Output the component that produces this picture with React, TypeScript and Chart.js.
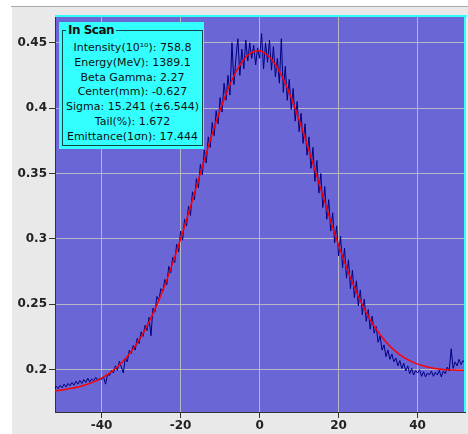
import React, { useEffect, useRef } from "react";
import { Chart, registerables } from "chart.js";

Chart.register(...registerables);

// Measured beam profile, sampled every 0.5 mm from -52 mm
const MEASURED_START = -52;
const MEASURED_STEP = 0.5;
const MEASURED = [
  0.1845, 0.1875, 0.1855, 0.1880, 0.1862, 0.1890, 0.1868, 0.1895, 0.1878, 0.1902,
  0.1882, 0.1912, 0.1890, 0.1918, 0.1895, 0.1925, 0.1903, 0.1935, 0.1905, 0.1930,
  0.1915, 0.1942, 0.1920, 0.1935, 0.1925, 0.1945, 0.1890, 0.1965, 0.1955, 0.1995,
  0.1975, 0.2030, 0.1995, 0.2065, 0.2020, 0.1975, 0.2090, 0.2060, 0.2150, 0.2125,
  0.2185, 0.2150, 0.2240, 0.2200, 0.2290, 0.2255, 0.2340, 0.2300, 0.2400, 0.2260,
  0.2470, 0.2440, 0.2560, 0.2530, 0.2620, 0.2600, 0.2690, 0.2650, 0.2790, 0.2740,
  0.2860, 0.2820, 0.2960, 0.2900, 0.3060, 0.2990, 0.3150, 0.3100, 0.3250, 0.3180,
  0.3360, 0.3300, 0.3460, 0.3390, 0.3570, 0.3490, 0.3680, 0.3580, 0.3780, 0.3700,
  0.3890, 0.3790, 0.3980, 0.3880, 0.4080, 0.3970, 0.4190, 0.4060, 0.4250, 0.4100,
  0.4500, 0.4180, 0.4380, 0.4530, 0.4250, 0.4450, 0.4300, 0.4520, 0.4360, 0.4500,
  0.4380, 0.4480, 0.4330, 0.4460, 0.4380, 0.4570, 0.4300, 0.4500, 0.4350, 0.4520,
  0.4290, 0.4470, 0.4240, 0.4380, 0.4190, 0.4530, 0.4120, 0.4320, 0.4060, 0.4220,
  0.3990, 0.4150, 0.3900, 0.4050, 0.3820, 0.3960, 0.3730, 0.3880, 0.3640, 0.3780,
  0.3540, 0.3700, 0.3440, 0.3600, 0.3350, 0.3500, 0.3240, 0.3400, 0.3150, 0.3300,
  0.3060, 0.3200, 0.2970, 0.3100, 0.2870, 0.3020, 0.2780, 0.2930, 0.2700, 0.2840,
  0.2620, 0.2760, 0.2550, 0.2680, 0.2490, 0.2610, 0.2420, 0.2540, 0.2370, 0.2460,
  0.2310, 0.2410, 0.2280, 0.2330, 0.2210, 0.2260, 0.2150, 0.2190, 0.2100, 0.2150,
  0.2080, 0.2120, 0.2060, 0.2090, 0.2030, 0.2070, 0.2010, 0.2050, 0.1990, 0.2030,
  0.1970, 0.2010, 0.1960, 0.1995, 0.1975, 0.2000, 0.1950, 0.1985, 0.1945, 0.1975,
  0.1960, 0.1990, 0.1950, 0.1980, 0.1960, 0.1995, 0.1945, 0.1990, 0.1970, 0.2020,
  0.1990, 0.2160, 0.2010, 0.2060, 0.2030, 0.2080, 0.2040, 0.2070, 0.2050,
];

// Fitted curve, read every 2 mm from -52 mm
const FIT_START = -52;
const FIT_STEP = 2;
const FIT = [
  0.1838, 0.1846, 0.1856, 0.1868, 0.1885, 0.1907, 0.1936, 0.1974, 0.2023, 0.2084,
  0.2160, 0.2254, 0.2365, 0.2496, 0.2646, 0.2815, 0.3000, 0.3196, 0.3399, 0.3603,
  0.3802, 0.3985, 0.4145, 0.4276, 0.4372, 0.4426, 0.4438, 0.4406, 0.4333, 0.4221,
  0.4078, 0.3909, 0.3722, 0.3527, 0.3329, 0.3135, 0.2951, 0.2782, 0.2630, 0.2497,
  0.2384, 0.2289, 0.2213, 0.2152, 0.2104, 0.2070, 0.2043, 0.2025, 0.2012, 0.2004,
  0.1999, 0.1997, 0.1996,
];

const X_TICKS = [-40, -20, 0, 20, 40];
const Y_TICKS = [0.2, 0.25, 0.3, 0.35, 0.4, 0.45];
const X_RANGE = [-51.8, 52];
const Y_RANGE = [0.1677, 0.4704];

const INFO_TITLE = "In Scan";
const INFO_LINES = [
  "Intensity(10\u00b9\u2070): 758.8",
  "Energy(MeV): 1389.1",
  "Beta Gamma: 2.27",
  "Center(mm): -0.627",
  "Sigma: 15.241 (\u00b16.544)",
  "Tail(%): 1.672",
  "Emittance(1\u03c3n): 17.444",
];

const PLOT_BG = "#6a66d6";
const CYAN = "#33ffff";

export default function App() {
  const ref = useRef<HTMLCanvasElement | null>(null);

  useEffect(() => {
    document.body.style.margin = "0";
    const measuredPts = MEASURED.map((y, i) => ({ x: MEASURED_START + i * MEASURED_STEP, y }));
    const fitPts = FIT.map((y, i) => ({ x: FIT_START + i * FIT_STEP, y }));

    const bgPlugin = {
      id: "bgPlugin",
      beforeDraw(chart: any) {
        const { ctx, chartArea: a, width, height } = chart;
        ctx.save();
        ctx.fillStyle = "#ffffff";
        ctx.fillRect(0, 0, width, height);
        ctx.fillStyle = "#e9e9e9";
        ctx.fillRect(12, 7, width - 12, height - 7);
        ctx.fillStyle = "#a8a8a8";
        ctx.fillRect(11, 6, width - 11, 1);
        ctx.fillStyle = PLOT_BG;
        ctx.fillRect(a.left, a.top, a.right - a.left, a.bottom - a.top);
        ctx.restore();
      },
      afterDraw(chart: any) {
        const { ctx, chartArea: a } = chart;
        ctx.save();
        ctx.fillStyle = CYAN;
        ctx.fillRect(a.left, a.top - 1, a.right - a.left + 2, 2);
        ctx.fillRect(a.right - 1, a.top - 1, 2, a.bottom - a.top + 1);
        ctx.restore();
      },
    };

    const tickFont = { family: "DejaVu Sans", weight: "bold" as const, size: 12 };

    const chart = new Chart(ref.current as HTMLCanvasElement, {
      type: "line",
      data: {
        datasets: [
          {
            label: "Fit",
            data: fitPts,
            borderColor: "#ff0000",
            borderWidth: 1.5,
            pointRadius: 0,
            tension: 0.4,
            fill: false,
            order: 0,
          },
          {
            label: "Measured",
            data: measuredPts,
            borderColor: "#000080",
            borderWidth: 1,
            pointRadius: 0,
            tension: 0,
            fill: false,
            order: 1,
          },
        ],
      },
      options: {
        animation: false,
        responsive: false,
        devicePixelRatio: 1,
        layout: { padding: { left: 0, top: 16, right: 3, bottom: 0 } },
        plugins: { legend: { display: false }, tooltip: { enabled: false } },
        scales: {
          x: {
            type: "linear",
            min: X_RANGE[0],
            max: X_RANGE[1],
            afterFit(s: any) {
              s.height = 22;
            },
            afterBuildTicks(s: any) {
              s.ticks = X_TICKS.map((v) => ({ value: v }));
            },
            grid: { color: "#b8b8c4", lineWidth: 1, tickLength: 6, tickColor: "#333333" },
            border: { color: "#333333", width: 1 },
            ticks: {
              font: tickFont,
              color: "#222222",
              padding: 1,
              maxRotation: 0,
              autoSkip: false,
              callback: (v: any) => String(v),
            },
          },
          y: {
            type: "linear",
            min: Y_RANGE[0],
            max: Y_RANGE[1],
            afterFit(s: any) {
              s.width = 55;
            },
            afterBuildTicks(s: any) {
              s.ticks = Y_TICKS.map((v) => ({ value: v }));
            },
            grid: { color: "#b8b8c4", lineWidth: 1, tickLength: 6, tickColor: "#333333" },
            border: { color: "#333333", width: 1 },
            ticks: {
              font: tickFont,
              color: "#222222",
              padding: 2,
              autoSkip: false,
              callback: (v: any) => String(v),
            },
          },
        },
      },
      plugins: [bgPlugin],
    } as any);
    return () => chart.destroy();
  }, []);

  return (
    <div style={{ position: "relative", width: 468, height: 434 }}>
      <canvas ref={ref} width={468} height={434} style={{ display: "block", width: 468, height: 434 }} />
      <div
        style={{
          position: "absolute",
          left: 59,
          top: 22,
          width: 145,
          height: 127,
          background: CYAN,
        }}
      />
      <div
        style={{
          position: "absolute",
          left: 62,
          top: 30,
          width: 139,
          height: 114,
          border: "1px solid #0b4848",
        }}
      />
      <div
        style={{
          position: "absolute",
          left: 66,
          top: 22,
          padding: "0 2px",
          background: CYAN,
          fontFamily: "DejaVu Sans",
          fontWeight: "bold",
          fontSize: 12,
          letterSpacing: "-0.5px",
          lineHeight: "16px",
          color: "#111",
        }}
      >
        {INFO_TITLE}
      </div>
      <div
        style={{
          position: "absolute",
          left: 62,
          top: 41,
          width: 141,
          textAlign: "center",
          fontFamily: "DejaVu Sans",
          fontSize: 11,
          lineHeight: "14.8px",
          color: "#111",
          whiteSpace: "nowrap",
        }}
      >
        {INFO_LINES.map((t, i) => (
          <div key={i}>{t}</div>
        ))}
      </div>
    </div>
  );
}
